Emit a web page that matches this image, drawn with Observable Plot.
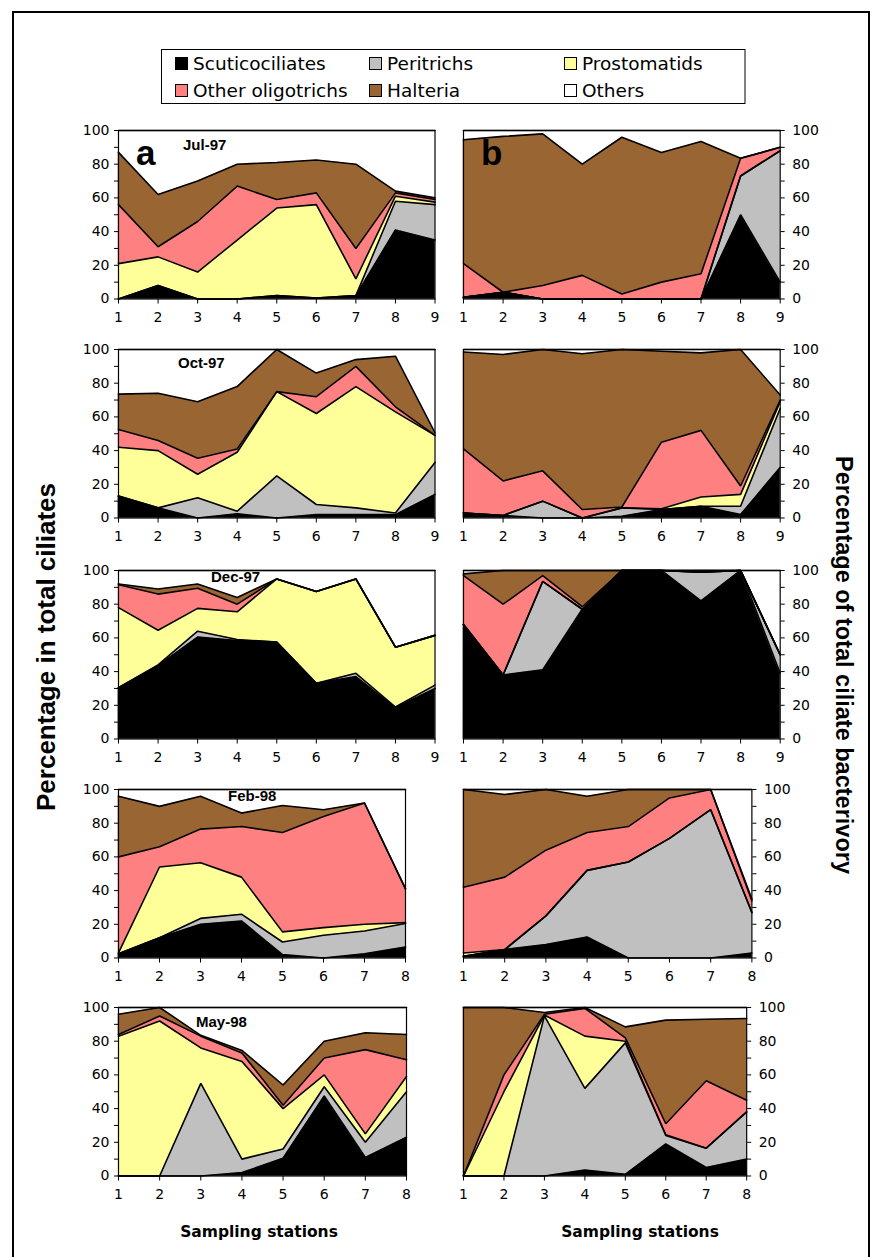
<!DOCTYPE html>
<html>
<head>
<meta charset="utf-8">
<script src="https://cdn.jsdelivr.net/npm/d3@7"></script>
<script src="https://cdn.jsdelivr.net/npm/@observablehq/plot@0.6"></script>
<style>
  html, body { margin: 0; padding: 0; background: #fff; }
  #fig { position: relative; width: 884px; height: 1257px; overflow: hidden; background: #fff;
         font-family: "DejaVu Sans", sans-serif; }
  .panel { position: absolute; }
  #overlay { position: absolute; left: 0; top: 0; pointer-events: none; }
</style>
</head>
<body>
<div id="fig"></div>
<script>
// Ciliate groups, in stacking order (bottom to top), with their fills
const groups = ["Scuticociliates", "Peritrichs", "Prostomatids", "Other oligotrichs", "Halteria", "Others"];
const groupColors = ["#000000", "#c0c0c0", "#ffff99", "#ff8080", "#996633", "#ffffff"];

const stations9 = [1, 2, 3, 4, 5, 6, 7, 8, 9];
const stations8 = [1, 2, 3, 4, 5, 6, 7, 8];
const yTicks = [0, 10, 20, 30, 40, 50, 60, 70, 80, 90, 100];

// Percentage in total ciliates (column a); one row per group, one value per station
const jul97Abundance = [
  [0, 8, 0, 0, 2, 0.5, 2, 41, 35],
  [0, 0, 0, 0, 0, 0, 0, 17, 21],
  [21, 17, 16, 35, 52, 55.5, 10, 3, 1.5],
  [35, 6, 30, 32, 5, 7, 18, 2, 1.5],
  [31, 31, 24, 13, 22, 19.5, 50, 1, 1],
  [13, 38, 30, 20, 19, 17.5, 20, 36, 40]
];
const oct97Abundance = [
  [13, 6, 0, 2.5, 0, 2, 2, 2, 14],
  [0, 0, 12, 1.5, 25, 6, 4, 1, 19],
  [29, 34, 14, 35, 50, 54, 72, 60, 16],
  [10.5, 6, 9.5, 2, 0, 10, 12, 3, 0],
  [21, 28, 33.5, 37, 25, 14, 4, 30, 1.5],
  [26.5, 26, 31, 22, 0, 14, 6, 4, 49.5]
];
const dec97Abundance = [
  [30.5, 43.5, 60.5, 58.5, 57.5, 33, 37, 18.5, 30],
  [0, 0.5, 3.5, 0.5, 0, 0, 2, 0.5, 2],
  [47.5, 20.5, 13.5, 16.5, 37.5, 54.5, 56, 35.5, 29.5],
  [13.5, 21.5, 12, 4.5, 0, 0, 0, 0, 0],
  [0.5, 3, 2.5, 4, 0, 0, 0, 0, 0],
  [8, 11, 8, 16, 5, 12.5, 5, 45.5, 38.5]
];
const feb98Abundance = [
  [2.5, 12, 20, 22, 2, 0, 2.5, 6.5],
  [0, 0, 3.5, 4, 7.5, 13.5, 13.5, 14],
  [0.5, 42, 33, 22, 6, 4.5, 4, 0.5],
  [57, 12, 20, 30, 59, 66, 72, 20],
  [36, 24, 19.5, 8, 16, 4, 0, 0],
  [4, 10, 4, 14, 9.5, 12, 8, 59]
];
const may98Abundance = [
  [0, 0, 0, 2, 10.5, 47.5, 11, 23],
  [0, 0, 55, 8, 5.5, 5.5, 9, 27],
  [83, 92, 21, 58, 24, 7, 5, 9],
  [1, 3, 7, 5, 2, 10, 50, 10],
  [12, 5, 0.5, 1.5, 12, 10, 10, 15],
  [4, 0, 16.5, 25.5, 46, 20, 15, 16]
];

// Percentage of total ciliate bacterivory (column b)
const jul97Bacterivory = [
  [1, 4, 0, 0, 0, 0, 0, 50, 10],
  [0, 0, 0, 0, 0, 0, 0, 23, 78],
  [0, 0, 0, 0, 0, 0, 0, 0, 0],
  [20, 0, 8, 14, 3, 10, 15, 10.5, 2],
  [73.5, 92.5, 90, 66, 93, 77, 78.5, 0, 0],
  [5.5, 3.5, 2, 20, 4, 13, 6.5, 16.5, 10]
];
const oct97Bacterivory = [
  [3, 1.5, 0, 0, 1, 5, 7, 2, 30],
  [0, 0, 10, 0, 5, 0, 0, 5, 35],
  [0, 0, 0, 0, 0, 0.5, 5.5, 7, 4],
  [38, 20.5, 18, 5, 0.5, 39.5, 39.5, 5, 1],
  [57.5, 75, 72, 92.5, 93.5, 54, 46, 81, 3],
  [1.5, 3, 0, 2.5, 0, 1, 2, 0, 27]
];
const dec97Bacterivory = [
  [68, 38, 41, 77, 100, 100, 82, 100, 39],
  [0, 0, 52.5, 0, 0, 0, 17, 0, 11],
  [0, 0, 0, 0, 0, 0, 0, 0, 0],
  [29, 42, 3.5, 1.5, 0, 0, 0, 0, 0],
  [1, 20, 3, 21.5, 0, 0, 1, 0, 0],
  [2, 0, 0, 0, 0, 0, 0, 0, 50]
];
const feb98Bacterivory = [
  [1, 5, 8, 12.5, 0, 0, 0, 3],
  [0, 0, 17, 39.5, 57, 71, 88, 24],
  [2, 0, 0, 0, 0, 0, 0, 0],
  [39, 43, 39, 22.5, 21, 24, 12, 7],
  [58, 49, 36, 21.5, 22, 5, 0, 1],
  [0, 3, 0, 4, 0, 0, 0, 65]
];
const may98Bacterivory = [
  [0, 0, 0, 3.5, 1, 19, 5, 10],
  [0, 0, 95, 48.5, 78, 5, 11.5, 28],
  [0, 50, 0.5, 31, 1, 0.5, 0, 0],
  [0, 10, 0.5, 16.5, 2, 6.5, 40, 7],
  [100, 40, 1, 0.5, 6.5, 61.5, 36.5, 48.5],
  [0, 0, 3, 0, 11.5, 7.5, 7, 6.5]
];

const months = ["Jul-97", "Oct-97", "Dec-97", "Feb-98", "May-98"];

// Page layout: frame edges of each panel (px)
const rowTop = [130, 349.3, 569.5, 788.6, 1007.3];
const plotH = 168.5;
const M = {left: 45, right: 45, top: 6, bottom: 40};

const panels = [
  {month: 0, stations: stations9, values: jul97Abundance,    side: "left",  x1: 117.5, x2: 434},
  {month: 0, stations: stations9, values: jul97Bacterivory,  side: "right", x1: 463.3, x2: 780},
  {month: 1, stations: stations9, values: oct97Abundance,    side: "left",  x1: 117.5, x2: 434},
  {month: 1, stations: stations9, values: oct97Bacterivory,  side: "right", x1: 463.3, x2: 780},
  {month: 2, stations: stations9, values: dec97Abundance,    side: "left",  x1: 117.5, x2: 434},
  {month: 2, stations: stations9, values: dec97Bacterivory,  side: "right", x1: 463.3, x2: 780},
  {month: 3, stations: stations8, values: feb98Abundance,    side: "left",  x1: 117.5, x2: 404.5},
  {month: 3, stations: stations8, values: feb98Bacterivory,  side: "right", x1: 463.3, x2: 751.7},
  {month: 4, stations: stations8, values: may98Abundance,    side: "left",  x1: 117.5, x2: 405.5},
  {month: 4, stations: stations8, values: may98Bacterivory,  side: "right", x1: 463.3, x2: 746.5}
];

const fig = document.getElementById("fig");

function drawPanel(p) {
  const rows = [];
  p.stations.forEach((s, i) => {
    groups.forEach((g, k) => rows.push({station: s, group: g, value: p.values[k][i]}));
  });
  const n = p.stations.length;
  const width = (p.x2 - p.x1) + M.left + M.right;
  const height = plotH + M.top + M.bottom;
  const chart = Plot.plot({
    width, height,
    marginLeft: M.left, marginRight: M.right, marginTop: M.top, marginBottom: M.bottom,
    x: {domain: [1, n], label: null},
    y: {domain: [0, 100], label: null},
    color: {domain: groups, range: groupColors},
    style: {
      fontFamily: "'DejaVu Sans', sans-serif",
      fontSize: "14px",
      color: "#000",
      background: "none",
      overflow: "visible"
    },
    marks: [
      Plot.areaY(rows, {x: "station", y: "value", z: "group", fill: "group", order: groups,
                        stroke: "group", strokeWidth: 0.4}),
      Plot.lineY(rows, Plot.stackY2({x: "station", y: "value", z: "group", order: groups,
                        stroke: "#000", strokeWidth: 1.6, strokeLinejoin: "miter"})),
      Plot.frame({stroke: "#000", strokeWidth: 1.2}),
      Plot.axisX({ticks: p.stations, tickFormat: d => String(d), tickSize: 5, tickPadding: 8}),
      Plot.axisY({anchor: p.side, ticks: yTicks, tickFormat: d => (d % 20 === 0 ? String(d) : ""),
                  tickSize: 4, tickPadding: p.side === "left" ? 5 : 8})
    ]
  });
  chart.classList.add("panel");
  chart.style.left = (p.x1 - M.left) + "px";
  chart.style.top = (rowTop[p.month] - M.top) + "px";
  fig.appendChild(chart);
}
panels.forEach(drawPanel);

// Legend, titles and panel labels
const svg = d3.select(fig).append("svg")
  .attr("id", "overlay").attr("width", 884).attr("height", 1257);

svg.append("rect").attr("x", 13).attr("y", 12).attr("width", 856).attr("height", 1260)
  .attr("fill", "none").attr("stroke", "#000").attr("stroke-width", 2);

const legend = svg.append("g").style("font-family", "'DejaVu Sans', sans-serif");
legend.append("rect").attr("x", 161.5).attr("y", 49.5).attr("width", 583.5).attr("height", 54)
  .attr("fill", "none").attr("stroke", "#000").attr("stroke-width", 1);
const legendSwatchX = [175, 369, 564];
const legendTextX = [193, 387, 582];
const legendBaseline = [70, 97];
groups.forEach((g, i) => {
  const col = i % 3, by = legendBaseline[Math.floor(i / 3)];
  legend.append("rect").attr("x", legendSwatchX[col] + 0.5).attr("y", by - 12.5)
    .attr("width", 12).attr("height", 12)
    .attr("fill", groupColors[i]).attr("stroke", "#000").attr("stroke-width", 1);
  legend.append("text").attr("x", legendTextX[col]).attr("y", by).attr("font-size", 18.5).text(g);
});

// Month labels inside the left panels
const titles = svg.append("g").style("font-family", "'Liberation Sans', Arial, sans-serif")
  .attr("font-weight", "bold");
const monthPos = [[183, 150], [178, 368], [211, 582], [228, 801], [196, 1027]];
months.forEach((m, i) => {
  titles.append("text").attr("x", monthPos[i][0]).attr("y", monthPos[i][1])
    .attr("font-size", 15).text(m);
});
titles.append("text").attr("x", 136).attr("y", 165).attr("font-size", 35).text("a");
titles.append("text").attr("x", 481).attr("y", 165).attr("font-size", 35).text("b");

// Axis titles
titles.append("text").attr("transform", "translate(55,647) rotate(-90)")
  .attr("text-anchor", "middle").attr("font-size", 26)
  .text("Percentage in total ciliates");
titles.append("text").attr("transform", "translate(836,665) rotate(90)")
  .attr("text-anchor", "middle").attr("font-size", 23.5)
  .text("Percentage of total ciliate bacterivory");
[259, 640].forEach(cx => {
  svg.append("text").attr("x", cx).attr("y", 1237).attr("text-anchor", "middle")
    .style("font-family", "'DejaVu Sans', sans-serif")
    .attr("font-size", 15.5).attr("font-weight", "bold").text("Sampling stations");
});
</script>
</body>
</html>
